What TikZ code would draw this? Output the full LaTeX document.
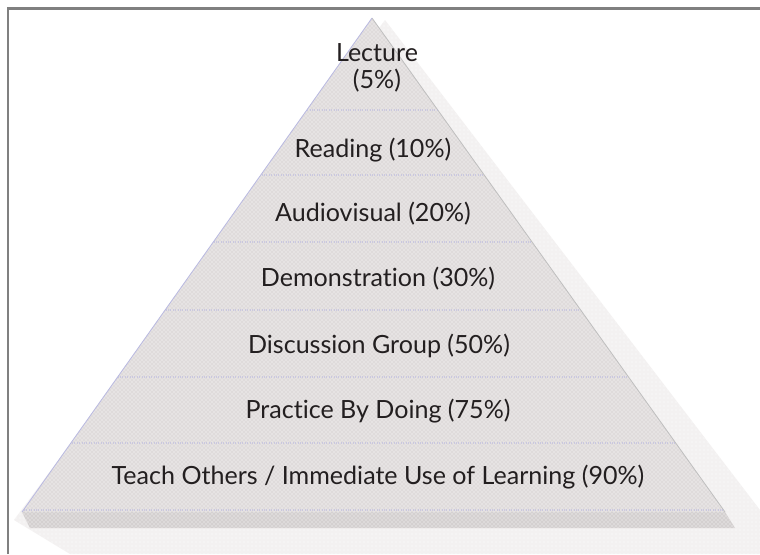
\documentclass[tikz,border=0pt]{standalone}
\usepackage{fontspec}
\setmainfont{Lato}[Ligatures=NoCommon]
\usetikzlibrary{patterns}
\definecolor{pyrgray}{RGB}{223,219,219}
\definecolor{halogray}{RGB}{243,241,241}
\definecolor{bandgray}{RGB}{212,208,208}
\definecolor{framegray}{RGB}{128,128,128}
\definecolor{layerline}{RGB}{185,185,225}
\definecolor{textdark}{RGB}{35,31,32}
\tikzset{
  level/.style={font=\fontsize{18.8}{20.5}\selectfont, text=textdark, align=center, inner sep=0pt},
  sepline/.style={layerline, densely dotted, line width=0.8pt, opacity=0.6}
}

\begin{document}
\begin{tikzpicture}[x=0.75pt,y=-0.75pt]
	\useasboundingbox (0,0) rectangle (760,554);
	\fill[white] (0,0) rectangle (760,554);
	\coordinate (apex) at (372,18);
	\coordinate (left) at (22,512);
	\coordinate (right) at (725,512);
	% soft halo round the pyramid
	\fill[halogray] (385,20) -- (760,510) -- (760,554) -- (70,554) -- (14,520) -- cycle;
	\fill[pattern=dots, pattern color=white] (385,20) -- (760,510) -- (760,554) -- (70,554) -- (14,520) -- cycle;
	% base slab
	\fill[bandgray] (left) -- (right) -- (735,528) -- (30,528) -- cycle;
	\fill[pattern=crosshatch dots, pattern color=white] (left) -- (right) -- (735,528) -- (30,528) -- cycle;
	% pyramid body
	\fill[pyrgray] (apex) -- (right) -- (left) -- cycle;
	\fill[pattern=crosshatch dots, pattern color=white] (apex) -- (right) -- (left) -- cycle;
	\draw[gray!50, line width=0.6pt] (apex) -- (right);
	\draw[layerline, line width=0.6pt] (apex) -- (left);
	\begin{scope}
		\clip (apex) -- (right) -- (left) -- cycle;
		\foreach \yy in {110,175,242,310,377,443,510}
			\draw[sepline] (0,\yy) -- (760,\yy);
	\end{scope}
	% frame
	\draw[framegray, line width=1.6pt] (8,554) -- (8,8.5) -- (760,8.5);
	% levels
	\node[level] (lecture) at (377,68) {Lecture\\(5\%)};
	\node[level] (reading) at (373,150) {Reading (10\%)};
	\node[level] (audio) at (373,214) {Audiovisual (20\%)};
	\node[level] (demo) at (378,279) {Demonstration (30\%)};
	\node[level] (discuss) at (379,346) {Discussion Group (50\%)};
	\node[level] (practice) at (378,411) {Practice By Doing (75\%)};
	\node[level] (teach) at (378,477) {Teach Others / Immediate Use of Learning (90\%)};
\end{tikzpicture}
\end{document}
